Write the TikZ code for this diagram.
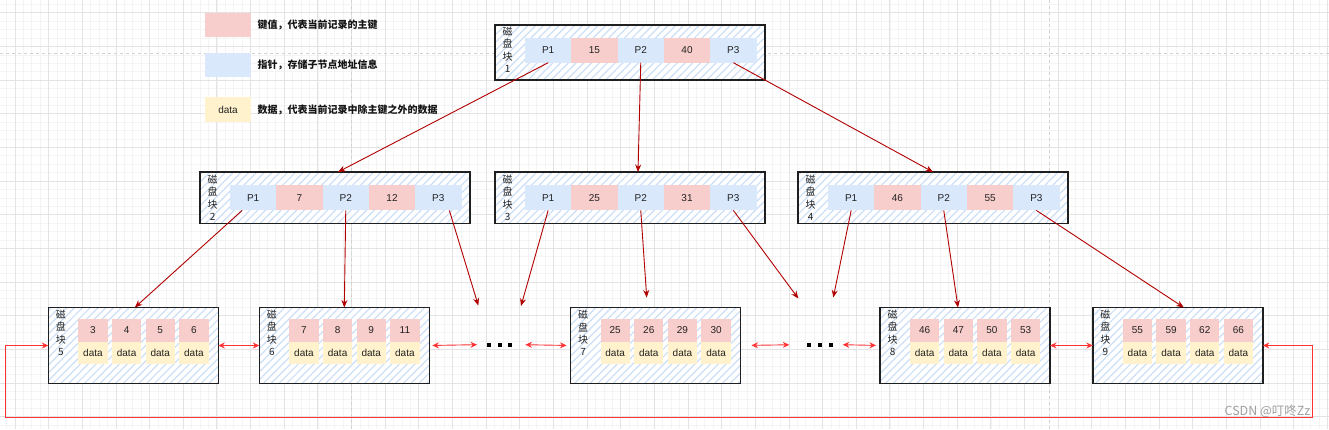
\documentclass[tikz,border=0pt]{standalone}
\usepackage{fontspec}
\setmainfont{Liberation Sans}
\newfontfamily\cjk{Noto Sans CJK SC}
\usetikzlibrary{arrows.meta,patterns.meta,calc}

\definecolor{keyfill}{HTML}{F8CECC}
\definecolor{ptrfill}{HTML}{DAE8FC}
\definecolor{datafill}{HTML}{FFF2CC}
\definecolor{hatch}{HTML}{CCDFF7}
\definecolor{treered}{HTML}{B20000}
\definecolor{linkred}{HTML}{FF3333}
\definecolor{gridminor}{HTML}{F4F4F4}
\definecolor{gridmajor}{HTML}{E3E3E3}
\definecolor{pagebreak}{HTML}{D2D2D2}
\definecolor{txt}{HTML}{222222}
\definecolor{wmark}{HTML}{A0A0A0}

% one disk block of the middle row: name, left x, two keys, block number
\newcommand\drawmid[5]{%
  \node[midbox] (#1) at ({#2+135},197.75) {};
  \node[lbl] (#1l) at ({#2+12.6},197.9) {磁\\盘\\块\\#5};
  \node[ptr] (#1p1) at ({#2+53.15},197.9) {P1};
  \node[key] (#1k1) at ({#2+99.45},197.9) {#3};
  \node[ptr] (#1p2) at ({#2+145.75},197.9) {P2};
  \node[key] (#1k2) at ({#2+192.05},197.9) {#4};
  \node[ptr] (#1p3) at ({#2+238.35},197.9) {P3};
}
% one leaf block: name, left x, block number, four keys
\newcommand\drawleaf[7]{%
  \node[leafbox] (#1) at ({#2+85},345.5) {};
  \node[lbl] (#1l) at ({#2+12.6},333) {磁\\盘\\块\\#3};
  \foreach \k [count=\i from 0] in {#4,#5,#6,#7} {
    \node[lkey] (#1k\i) at ({#2+44.65+\i*33.65},330.1) {\k};
    \node[ldata] (#1d\i) at ({#2+44.65+\i*33.65},352.85) {data};
  }
}
\newcommand\dotrow{\rule{4pt}{4pt}\hspace{6.7pt}\rule{4pt}{4pt}\hspace{6.7pt}\rule{4pt}{4pt}}

\begin{document}
\begin{tikzpicture}[x=1pt,y=-1pt,
  blockbase/.style={draw=black!88, line width=1.4pt, preaction={fill=white},
    pattern={Lines[angle=45,distance=5.5pt,line width=1.2pt]}, pattern color=hatch,
    inner sep=0pt, outer sep=0pt},
  topbox/.style={blockbase, minimum width=270pt, minimum height=55pt},
  midbox/.style={blockbase, minimum width=270pt, minimum height=51.5pt},
  leafbox/.style={blockbase, minimum width=170pt, minimum height=76pt},
  cell/.style={inner sep=0pt, outer sep=0pt, text=txt, font=\fontsize{10}{12}\selectfont},
  ptr/.style={cell, fill=ptrfill, minimum width=46.3pt, minimum height=25pt},
  key/.style={cell, fill=keyfill, minimum width=46.3pt, minimum height=25pt},
  lkey/.style={cell, fill=keyfill, minimum width=29.3pt, minimum height=23.2pt},
  ldata/.style={cell, fill=datafill, minimum width=29.3pt, minimum height=22.3pt},
  lbl/.style={inner sep=0pt, align=center, text=txt, font=\cjk\fontsize{10}{12.4}\selectfont},
  legbox/.style={cell, minimum width=46pt, minimum height=24.5pt},
  legtxt/.style={inner sep=0pt, anchor=west, text=black!92, font=\cjk\bfseries\fontsize{10}{12}\selectfont},
  dots/.style={inner sep=0pt, outer sep=0pt},
  tree/.style={draw=treered, line width=0.9pt, -{Stealth[length=7.5pt,width=6pt]}},
  link/.style={draw=linkred, line width=0.9pt, {Stealth[length=6.5pt,width=6pt]}-{Stealth[length=6.5pt,width=6pt]}}
]
\useasboundingbox (0,0) rectangle (1329,429);
\fill[white] (0,0) rectangle (1329,429);

% background grid
\foreach \i in {0,...,157} \draw[gridminor, line width=0.5pt] ({6.49+\i*8.4125},0) -- ({6.49+\i*8.4125},429);
\foreach \i in {0,...,50} \draw[gridminor, line width=0.5pt] (0,{4.29+\i*8.4125}) -- (1329,{4.29+\i*8.4125});
\foreach \i in {0,...,39} \draw[gridmajor, line width=0.7pt] ({14.9+\i*33.65},0) -- ({14.9+\i*33.65},429);
\foreach \i in {0,...,12} \draw[gridmajor, line width=0.7pt] (0,{12.7+\i*33.65}) -- (1329,{12.7+\i*33.65});
\draw[pagebreak, line width=0.8pt, dash pattern=on 3pt off 3pt] (351.7,0) -- (351.7,429);
\draw[pagebreak, line width=0.8pt, dash pattern=on 3pt off 3pt] (1049.3,0) -- (1049.3,429);
\draw[pagebreak, line width=0.8pt, dash pattern=on 3pt off 3pt] (0,53) -- (1329,53);

% legend
\node[legbox, fill=keyfill] (lg1) at (228,25) {};
\node[legtxt] (lt1) at (257.5,25) {键值，代表当前记录的主键};
\node[legbox, fill=ptrfill] (lg2) at (228,65) {};
\node[legtxt] (lt2) at (257.5,65) {指针，存储子节点地址信息};
\node[legbox, fill=datafill] (lg3) at (228,109.7) {data};
\node[legtxt] (lt3) at (257.5,109.7) {数据，代表当前记录中除主键之外的数据};

% root block
\node[topbox] (b1) at (630,52.5) {};
\node[lbl] (b1l) at (507.7,49.7) {磁\\盘\\块\\1};
\node[ptr] (b1p1) at (548.15,50.2) {P1};
\node[key] (b1k1) at (594.45,50.2) {15};
\node[ptr] (b1p2) at (640.75,50.2) {P2};
\node[key] (b1k2) at (687.05,50.2) {40};
\node[ptr] (b1p3) at (733.35,50.2) {P3};

% inner blocks
\drawmid{b2}{200}{7}{12}{2}
\drawmid{b3}{495}{25}{31}{3}
\drawmid{b4}{798}{46}{55}{4}

% leaf blocks
\drawleaf{b5}{48.3}{5}{3}{4}{5}{6}
\drawleaf{b6}{259.3}{6}{7}{8}{9}{11}
\drawleaf{b7}{570.5}{7}{25}{26}{29}{30}
\drawleaf{b8}{880}{8}{46}{47}{50}{53}
\drawleaf{b9}{1092.8}{9}{55}{59}{62}{66}

\node[dots] (dots1) at (499.7,344.5) {\dotrow};
\node[dots] (dots2) at (820,344.5) {\dotrow};

% pointers from parents to children
\coordinate (e1) at (478.3,305.5);
\coordinate (e2) at (521,306);
\coordinate (e3) at (646.7,297.5);
\coordinate (e4) at (798.3,298.5);
\coordinate (e5) at (833.3,297.5);
\draw[tree] (b1p1.south) -- ([xshift=3pt]b2.north);
\draw[tree] (b1p2.south) -- ([xshift=8pt]b3.north);
\draw[tree] (b1p3.south) -- (b4.north);
\draw[tree] ([xshift=-11pt]b2p1.south) -- ([xshift=1.5pt]b5.north);
\draw[tree] (b2p2.south) -- (b6.north);
\draw[tree] ([xshift=11pt]b2p3.south) -- (e1);
\draw[tree] (b3p1.south) -- (e2);
\draw[tree] (b3p2.south) -- (e3);
\draw[tree] (b3p3.south) -- (e4);
\draw[tree] (b4p1.south) -- (e5);
\draw[tree] (b4p2.south) -- ([xshift=-7pt]b8.north);
\draw[tree] (b4p3.south) -- ([xshift=6pt]b9.north);

% sibling links between leaves
\draw[link] (b5.east) -- (b6.west);
\draw[link, shorten <=3pt, shorten >=10pt] (b6.east) -- (dots1.west);
\draw[link, shorten <=13pt, shorten >=4pt] (dots1.east) -- (b7.west);
\draw[link, shorten <=11pt, shorten >=18pt] (b7.east) -- (dots2.west);
\draw[link, shorten <=10pt, shorten >=4pt] (dots2.east) -- (b8.west);
\draw[link] (b8.east) -- (b9.west);
\coordinate (loopr) at (1312.3,417.3);
\coordinate (loopl) at (5.3,417.3);
\draw[link] (b9.east) -| (loopr) -- (loopl) |- (b5.west);

\node[inner sep=0pt, text=wmark, font=\cjk\fontsize{12.5}{14}\selectfont] (wm) at (1267.5,411.5) {CSDN @叮咚Zz};
\end{tikzpicture}
\end{document}
